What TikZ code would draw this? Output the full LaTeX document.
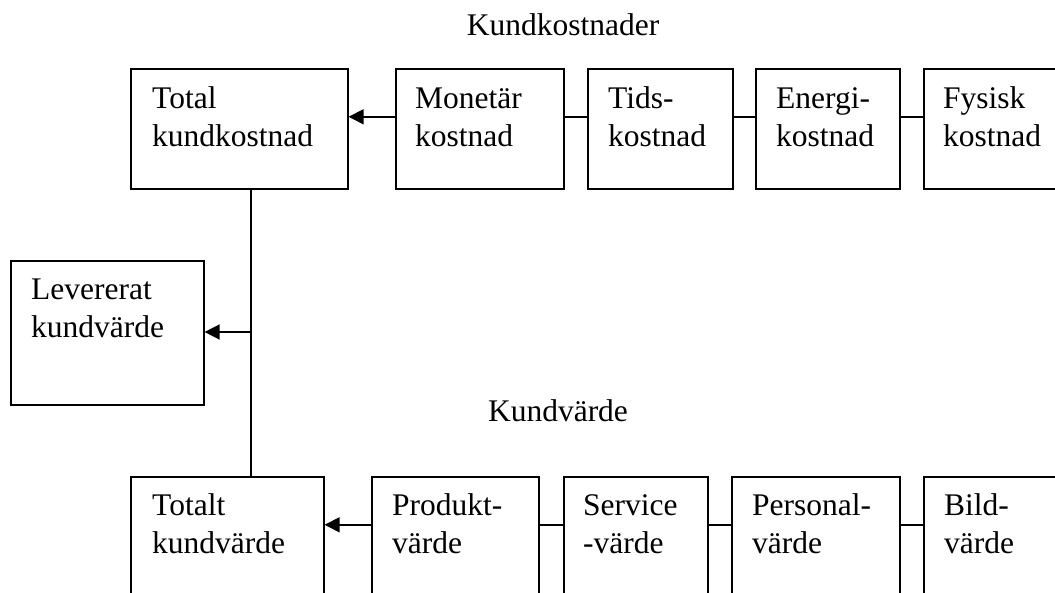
\documentclass[tikz,border=0pt]{standalone}
\usepackage{fontspec}
\setmainfont{Liberation Serif}
\usetikzlibrary{arrows.meta}
\begin{document}
\begin{tikzpicture}[x=1pt,y=-1pt,
  every node/.style={font=\fontsize{31.5}{38}\selectfont},
  box/.style={draw, line width=1.6pt, rectangle, inner sep=0pt, anchor=north west},
  lbl/.style={inner sep=0pt, anchor=north west, align=left},
  link/.style={line width=1.6pt},
  arr/.style={line width=1.6pt, -{Triangle[length=15pt,width=15pt]}}]
\useasboundingbox (0,0) rectangle (1055,593);
\clip (0,0) rectangle (1055,593);

% headings
\node[anchor=base] (hcost) at (563,36) {Kundkostnader};
\node[anchor=base] (hvalue) at (558,421) {Kundvärde};

% cost row
\node[box, minimum width=217pt, minimum height=120pt] (tk) at (130,68) {};
\node[box, minimum width=168pt, minimum height=120pt] (mk) at (395,68) {};
\node[box, minimum width=145pt, minimum height=120pt] (tid) at (587,68) {};
\node[box, minimum width=144pt, minimum height=120pt] (en) at (755,68) {};
\node[box, minimum width=160pt, minimum height=120pt] (fy) at (923,68) {};

\node[lbl] (tkt) at (152,83) {\rule{0pt}{25pt}Total\\kundkostnad};
\node[lbl] (mkt) at (415,83) {\rule{0pt}{25pt}Monetär\\kostnad};
\node[lbl] (tidt) at (608,83) {\rule{0pt}{25pt}Tids-\\kostnad};
\node[lbl] (ent) at (776,83) {\rule{0pt}{25pt}Energi-\\kostnad};
\node[lbl] (fyt) at (943,83) {\rule{0pt}{25pt}Fysisk\\kostnad};

% delivered value
\node[box, minimum width=193pt, minimum height=144pt] (lev) at (10,260) {};
\node[lbl] (levt) at (31,274) {\rule{0pt}{25pt}Levererat\\kundvärde};

% value row
\node[box, minimum width=193pt, minimum height=144pt] (tv) at (130,476) {};
\node[box, minimum width=167pt, minimum height=144pt] (pv) at (371,476) {};
\node[box, minimum width=144pt, minimum height=144pt] (sv) at (563,476) {};
\node[box, minimum width=168pt, minimum height=144pt] (pe) at (731,476) {};
\node[box, minimum width=160pt, minimum height=144pt] (bv) at (923,476) {};

\node[lbl] (tvt) at (152,490) {\rule{0pt}{25pt}Totalt\\kundvärde};
\node[lbl] (pvt) at (392,490) {\rule{0pt}{25pt}Produkt-\\värde};
\node[lbl] (svt) at (583,490) {\rule{0pt}{25pt}Service\\-värde};
\node[lbl] (pet) at (752,490) {\rule{0pt}{25pt}Personal-\\värde};
\node[lbl] (bvt) at (944,490) {\rule{0pt}{25pt}Bild-\\värde};

% connectors, cost row
\draw[arr] ([yshift=12pt]mk.west) -- ([yshift=12pt]tk.east);
\draw[link] ([yshift=12pt]mk.east) -- ([yshift=12pt]tid.west);
\draw[link] ([yshift=12pt]tid.east) -- ([yshift=12pt]en.west);
\draw[link] ([yshift=12pt]en.east) -- ([yshift=12pt]fy.west);

% connectors, value row
\draw[arr] ([yshift=24pt]pv.west) -- ([yshift=24pt]tv.east);
\draw[link] ([yshift=24pt]pv.east) -- ([yshift=24pt]sv.west);
\draw[link] ([yshift=24pt]sv.east) -- ([yshift=24pt]pe.west);
\draw[link] ([yshift=24pt]pe.east) -- ([yshift=24pt]bv.west);

% spine joining both totals and feeding the delivered value
\coordinate (spine) at (251,332);
\draw[link] (tk.south -| spine) -- (tv.north -| spine);
\draw[arr] (spine) -- (lev.east |- spine);
\end{tikzpicture}
\end{document}
